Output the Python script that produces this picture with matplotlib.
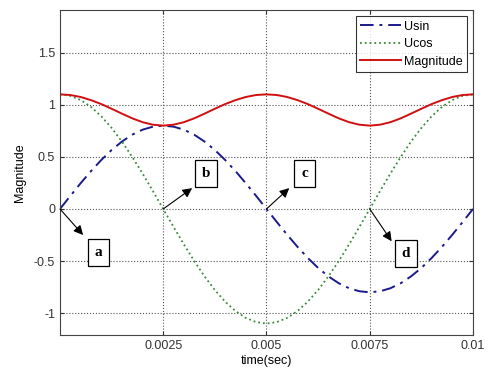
import matplotlib
matplotlib.use("Agg")
import matplotlib.pyplot as plt

# ---------- data ----------
t = [0, 0.00025, 0.0005, 0.00075, 0.001, 0.00125, 0.0015, 0.00175, 0.002, 0.00225,
     0.0025, 0.00275, 0.003, 0.00325, 0.0035, 0.00375, 0.004, 0.00425, 0.0045, 0.00475,
     0.005, 0.00525, 0.0055, 0.00575, 0.006, 0.00625, 0.0065, 0.00675, 0.007, 0.00725,
     0.0075, 0.00775, 0.008, 0.00825, 0.0085, 0.00875, 0.009, 0.00925, 0.0095, 0.00975,
     0.01]
usin = [0, 0.125, 0.247, 0.363, 0.470, 0.566, 0.647, 0.713, 0.761, 0.790,
        0.800, 0.790, 0.761, 0.713, 0.647, 0.566, 0.470, 0.363, 0.247, 0.125,
        0, -0.125, -0.247, -0.363, -0.470, -0.566, -0.647, -0.713, -0.761, -0.790,
        -0.800, -0.790, -0.761, -0.713, -0.647, -0.566, -0.470, -0.363, -0.247, -0.125,
        0]
ucos = [1.100, 1.086, 1.046, 0.980, 0.890, 0.778, 0.647, 0.499, 0.340, 0.172,
        0, -0.172, -0.340, -0.499, -0.647, -0.778, -0.890, -0.980, -1.046, -1.086,
        -1.100, -1.086, -1.046, -0.980, -0.890, -0.778, -0.647, -0.499, -0.340, -0.172,
        0, 0.172, 0.340, 0.499, 0.647, 0.778, 0.890, 0.980, 1.046, 1.086,
        1.100]
mag = [1.100, 1.094, 1.075, 1.045, 1.007, 0.962, 0.915, 0.870, 0.833, 0.809,
       0.800, 0.809, 0.833, 0.870, 0.915, 0.962, 1.007, 1.045, 1.075, 1.094,
       1.100, 1.094, 1.075, 1.045, 1.007, 0.962, 0.915, 0.870, 0.833, 0.809,
       0.800, 0.809, 0.833, 0.870, 0.915, 0.962, 1.007, 1.045, 1.075, 1.094,
       1.100]

x_ticks = [0.0025, 0.005, 0.0075, 0.01]
x_labels = ["0.0025", "0.005", "0.0075", "0.01"]
y_ticks = [-1, -0.5, 0, 0.5, 1, 1.5]
y_labels = ["-1", "-0.5", "0", "0.5", "1", "1.5"]

# labels: (letter, point on curve, arrow head, box centre)
notes = [
    ("a", (0.0, 0.0), (0.00056, -0.25), (0.00094, -0.42)),
    ("b", (0.0025, 0.0), (0.0032, 0.20), (0.00353, 0.34)),
    ("c", (0.005, 0.0), (0.00555, 0.20), (0.00592, 0.34)),
    ("d", (0.0075, 0.0), (0.00803, -0.31), (0.00837, -0.43)),
]

plt.rcParams['font.family'] = ['Liberation Sans', 'DejaVu Sans']

fig = plt.figure(figsize=(4.9, 3.69), dpi=100)
ax = fig.add_axes([0.1224, 0.0921, 0.8429, 0.8808])

ax.plot(t, usin, color='#1a1a8c', linestyle=(0, (7, 3, 1.5, 3)), linewidth=1.4, label='Usin')
ax.plot(t, ucos, color='#3a8a3a', linestyle=':', linewidth=1.3, label='Ucos')
ax.plot(t, mag, color='#d01010', linestyle='-', linewidth=1.4, label='Magnitude')

ax.set_xlim(0, 0.01)
ax.set_ylim(-1.21, 1.91)
ax.set_xticks(x_ticks)
ax.set_xticklabels(x_labels)
ax.set_yticks(y_ticks)
ax.set_yticklabels(y_labels)
ax.tick_params(direction='in', top=True, right=True, labelsize=9,
               colors='#333333', length=3)
ax.grid(True, linestyle=':', color='#555555', linewidth=0.8)
for s in ax.spines.values():
    s.set_color('#444444')

ax.set_xlabel("time(sec)", fontsize=9, labelpad=2)
ax.set_ylabel("Magnitude", fontsize=9, labelpad=6)

for letter, tail, head, box in notes:
    ax.annotate('', xy=head, xytext=tail,
                arrowprops=dict(arrowstyle='-|>', color='black', lw=0.8,
                                mutation_scale=14, shrinkA=0, shrinkB=0))
    ax.text(box[0], box[1], letter, ha='center', va='center', fontsize=11,
            fontweight='bold', family='Liberation Serif',
            bbox=dict(boxstyle='square,pad=0.45', facecolor='white',
                      edgecolor='black', linewidth=0.9))

leg = ax.legend(loc='upper right', fontsize=9, frameon=True, fancybox=False,
                borderaxespad=0.5, handlelength=3.3, handletextpad=0.2,
                labelspacing=0.45, borderpad=0.35)
leg.get_frame().set_edgecolor('black')
leg.get_frame().set_linewidth(0.8)

fig.savefig("out.png", dpi=100)
